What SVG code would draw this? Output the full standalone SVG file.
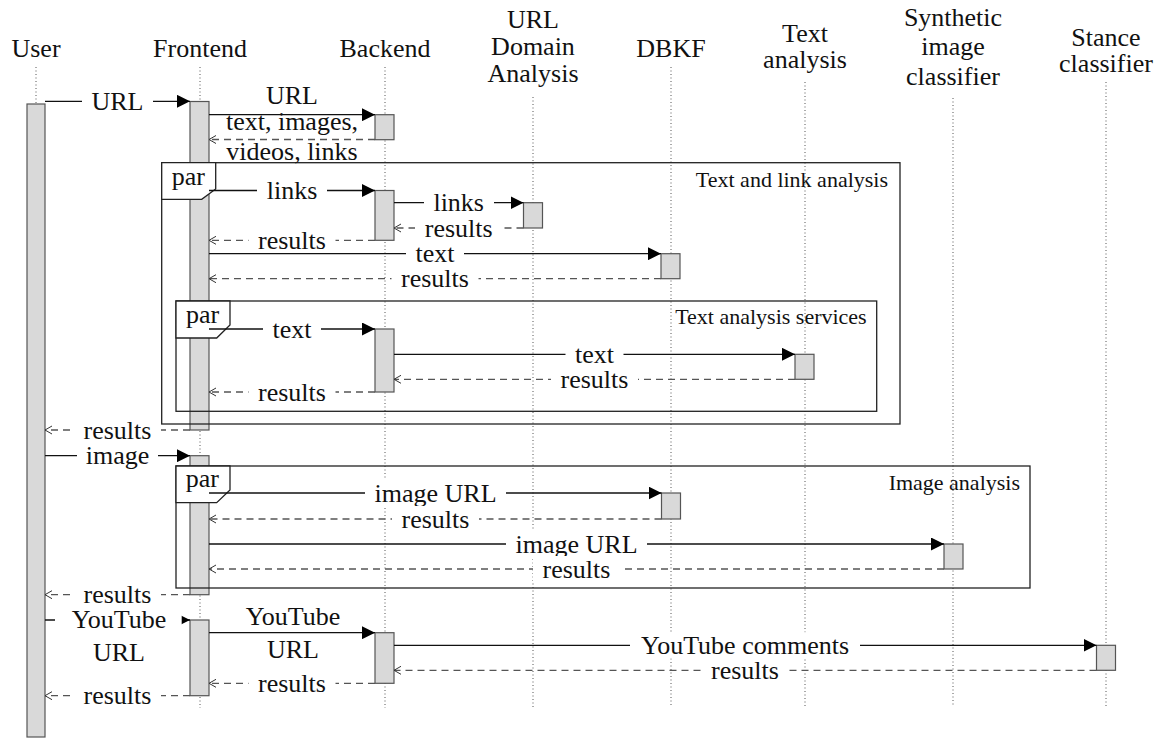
<svg xmlns="http://www.w3.org/2000/svg" width="1163" height="738" viewBox="0 0 1163 738">
<style>
text{font-family:"Liberation Serif","Times New Roman",serif;fill:#111}
.h{font-size:26px;text-anchor:middle}
.m{font-size:26px;text-anchor:middle}
.fl{font-size:22px;text-anchor:end}
.par{font-size:26px;text-anchor:start}
.ll{stroke:#555;stroke-width:1;stroke-dasharray:1 2.5;fill:none}
.act{fill:#d9d9d9;stroke:#555;stroke-width:1.2}
.frame{fill:none;stroke:#222;stroke-width:1.3}
.tab{fill:#fff;stroke:#222;stroke-width:1.3}
.call{stroke:#111;stroke-width:1.3;fill:none;marker-end:url(#ah)}
.ret{stroke:#555;stroke-width:1.3;stroke-dasharray:7 5;fill:none;marker-end:url(#oh)}
.bg{fill:#fff}
</style>
<defs>
<marker id="ah" markerUnits="userSpaceOnUse" markerWidth="13" markerHeight="13" refX="13" refY="6.5" orient="auto"><path d="M0,0 L13,6.5 L0,13 Z" fill="#000"/></marker>
<marker id="oh" markerUnits="userSpaceOnUse" markerWidth="9" markerHeight="10" refX="8" refY="4.5" orient="auto"><path d="M1,0.5 L8,4.5 L1,8.5" fill="none" stroke="#333" stroke-width="1"/></marker>
</defs>
<rect width="1163" height="738" fill="#fff"/>
<g id="user">
<text class="h" x="36" y="57">User</text>
<line class="ll" x1="36" y1="67" x2="36" y2="708"/>
<rect class="act" x="27" y="104" width="18" height="633"/>
</g>
<g id="frontend">
<text class="h" x="200" y="57">Frontend</text>
<line class="ll" x1="200" y1="67" x2="200" y2="708"/>
<rect class="act" x="190" y="101.5" width="19" height="328.5"/>
<rect class="act" x="190" y="455.7" width="19" height="139"/>
<rect class="act" x="190" y="620" width="19" height="75.7"/>
</g>
<g id="backend">
<text class="h" x="385" y="57">Backend</text>
<line class="ll" x1="385" y1="67" x2="385" y2="708"/>
<rect class="act" x="375" y="114.7" width="19" height="25"/>
<rect class="act" x="375" y="190.5" width="19" height="49.8"/>
<rect class="act" x="375" y="329" width="19" height="63"/>
<rect class="act" x="375" y="632.7" width="19" height="50.6"/>
</g>
<g id="url-domain-analysis">
<text class="h" x="533" y="28">URL</text>
<text class="h" x="533" y="55">Domain</text>
<text class="h" x="533" y="82">Analysis</text>
<line class="ll" x1="533" y1="97" x2="533" y2="707"/>
<rect class="act" x="523.5" y="202.7" width="19" height="25.3"/>
</g>
<g id="dbkf">
<text class="h" x="671" y="57">DBKF</text>
<line class="ll" x1="671" y1="67" x2="671" y2="707"/>
<rect class="act" x="661" y="253.7" width="19" height="25"/>
<rect class="act" x="661.5" y="493" width="19" height="26"/>
</g>
<g id="text-analysis">
<text class="h" x="805" y="42">Text</text>
<text class="h" x="805" y="68">analysis</text>
<line class="ll" x1="805" y1="82" x2="805" y2="706"/>
<rect class="act" x="795" y="354.3" width="19" height="25"/>
</g>
<g id="synthetic-image-classifier">
<text class="h" x="953" y="26">Synthetic</text>
<text class="h" x="953" y="55">image</text>
<text class="h" x="953" y="85">classifier</text>
<line class="ll" x1="953" y1="98" x2="953" y2="705"/>
<rect class="act" x="944" y="544" width="19" height="25"/>
</g>
<g id="stance-classifier">
<text class="h" x="1106" y="46">Stance</text>
<text class="h" x="1106" y="72">classifier</text>
<line class="ll" x1="1106" y1="82" x2="1106" y2="708"/>
<rect class="act" x="1096.5" y="645.3" width="19" height="25"/>
</g>
<g id="frame-text-link">
<rect class="frame" x="161.7" y="162.7" width="738.3" height="261.3"/>
<path class="tab" d="M161.7,162.7 H215.7 V189 L201.7,199.3 H161.7 Z"/>
<text class="par" x="171.7" y="185">par</text>
<text class="fl" x="888" y="187">Text and link analysis</text>
</g>
<g id="frame-text-services">
<rect class="frame" x="176" y="301" width="700.7" height="110.3"/>
<path class="tab" d="M176,301 H230 V325 L216.7,338 H176 Z"/>
<text class="par" x="186" y="323">par</text>
<text class="fl" x="866.7" y="324">Text analysis services</text>
</g>
<g id="frame-image">
<rect class="frame" x="176" y="466" width="854" height="122"/>
<path class="tab" d="M176,466 H230 V490 L216.7,502.7 H176 Z"/>
<text class="par" x="185.7" y="487">par</text>
<text class="fl" x="1020" y="490">Image analysis</text>
</g>
<g id="connectors">
<line class="call" x1="45" y1="101.3" x2="190" y2="101.3"/>
<rect class="bg" x="82" y="88" width="71" height="26"/><text class="m" x="117.5" y="110">URL</text>
<line class="call" x1="209" y1="114.7" x2="375" y2="114.7"/>
<text class="m" x="292" y="104">URL</text>
<line class="ret" x1="375" y1="139.5" x2="209" y2="139.5"/>
<text class="m" x="292" y="130">text, images,</text>
<text class="m" x="292" y="160">videos, links</text>
<line class="call" x1="209" y1="190.5" x2="375" y2="190.5"/>
<rect class="bg" x="257" y="177.5" width="70" height="26"/><text class="m" x="292" y="199">links</text>
<line class="call" x1="394" y1="202.7" x2="523.5" y2="202.7"/>
<rect class="bg" x="424" y="189.7" width="70" height="26"/><text class="m" x="458.7" y="211.2">links</text>
<line class="ret" x1="523.5" y1="228" x2="394" y2="228"/>
<rect class="bg" x="415" y="215" width="87" height="26"/><text class="m" x="458.7" y="236.5">results</text>
<line class="ret" x1="375" y1="240.3" x2="209" y2="240.3"/>
<rect class="bg" x="248.5" y="227.3" width="87" height="26"/><text class="m" x="292" y="248.8">results</text>
<line class="call" x1="209" y1="253.7" x2="661" y2="253.7"/>
<rect class="bg" x="406" y="240.7" width="58" height="26"/><text class="m" x="435" y="262.2">text</text>
<line class="ret" x1="661" y1="278.7" x2="209" y2="278.7"/>
<rect class="bg" x="391.5" y="265.7" width="87" height="26"/><text class="m" x="435" y="287.2">results</text>
<line class="call" x1="209" y1="329" x2="375" y2="329"/>
<rect class="bg" x="263" y="316" width="58" height="26"/><text class="m" x="292" y="337.5">text</text>
<line class="call" x1="394" y1="354.3" x2="795" y2="354.3"/>
<rect class="bg" x="565.5" y="341.3" width="58" height="26"/><text class="m" x="594.5" y="362.8">text</text>
<line class="ret" x1="795" y1="379.3" x2="394" y2="379.3"/>
<rect class="bg" x="551" y="366.3" width="87" height="26"/><text class="m" x="594.5" y="387.8">results</text>
<line class="ret" x1="375" y1="392" x2="209" y2="392"/>
<rect class="bg" x="248.5" y="379" width="87" height="26"/><text class="m" x="292" y="400.5">results</text>
<line class="ret" x1="190" y1="430" x2="45" y2="430"/>
<rect class="bg" x="74" y="417" width="87" height="26"/><text class="m" x="117.5" y="438.5">results</text>
<line class="call" x1="45" y1="455.7" x2="190" y2="455.7"/>
<rect class="bg" x="77" y="442.7" width="81" height="26"/><text class="m" x="117.5" y="464.2">image</text>
<line class="call" x1="209" y1="493" x2="661.5" y2="493"/>
<rect class="bg" x="365" y="480" width="141" height="26"/><text class="m" x="435.5" y="501.5">image URL</text>
<line class="ret" x1="661.5" y1="519" x2="209" y2="519"/>
<rect class="bg" x="392" y="506" width="87" height="26"/><text class="m" x="435.5" y="527.5">results</text>
<line class="call" x1="209" y1="544" x2="944" y2="544"/>
<rect class="bg" x="506" y="531" width="141" height="26"/><text class="m" x="576.5" y="552.5">image URL</text>
<line class="ret" x1="944" y1="569" x2="209" y2="569"/>
<rect class="bg" x="533" y="556" width="87" height="26"/><text class="m" x="576.5" y="577.5">results</text>
<line class="ret" x1="190" y1="594.7" x2="45" y2="594.7"/>
<rect class="bg" x="74" y="581.7" width="87" height="26"/><text class="m" x="117.5" y="603.2">results</text>
<line class="call" x1="45" y1="620" x2="190" y2="620"/>
<rect class="bg" x="55" y="607" width="126.7" height="62"/>
<text class="m" x="119" y="628">YouTube</text>
<text class="m" x="119" y="661">URL</text>
<line class="call" x1="209" y1="632.7" x2="375" y2="632.7"/>
<text class="m" x="293" y="625">YouTube</text>
<text class="m" x="293" y="658">URL</text>
<line class="call" x1="394" y1="645.3" x2="1096.5" y2="645.3"/>
<rect class="bg" x="630" y="632.3" width="230" height="26"/><text class="m" x="745" y="653.8">YouTube comments</text>
<line class="ret" x1="1096.5" y1="670.3" x2="394" y2="670.3"/>
<rect class="bg" x="701.5" y="657.3" width="87" height="26"/><text class="m" x="745" y="678.8">results</text>
<line class="ret" x1="375" y1="683.3" x2="209" y2="683.3"/>
<rect class="bg" x="248.5" y="670.3" width="87" height="26"/><text class="m" x="292" y="691.8">results</text>
<line class="ret" x1="190" y1="695.7" x2="45" y2="695.7"/>
<rect class="bg" x="74" y="682.7" width="87" height="26"/><text class="m" x="117.5" y="704.2">results</text>
</g>
</svg>
